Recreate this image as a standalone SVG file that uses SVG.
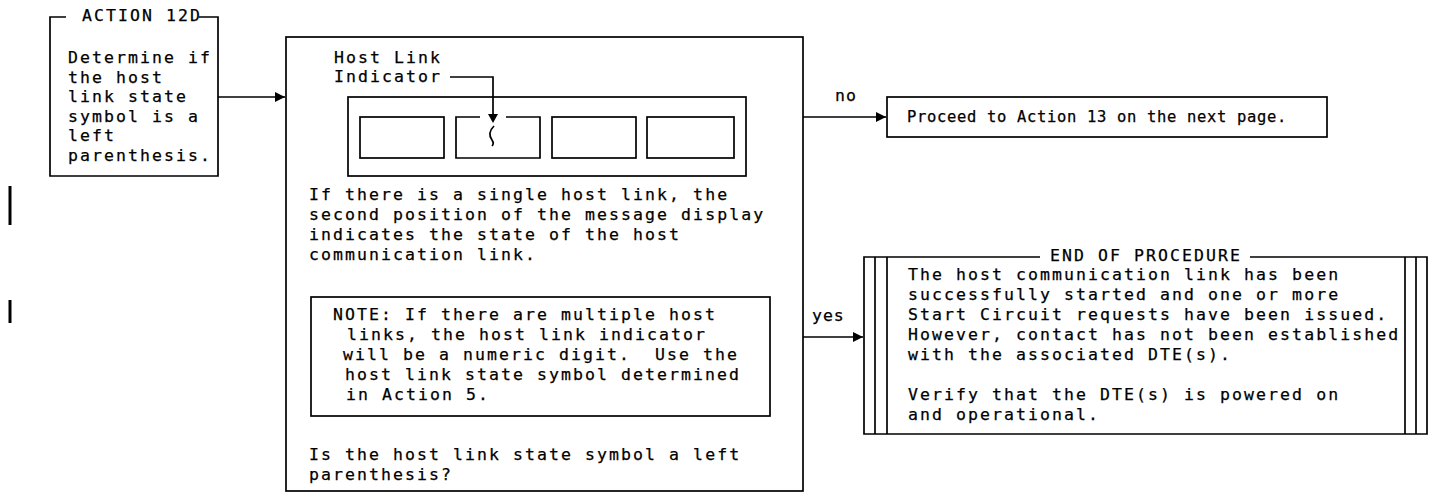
<svg xmlns="http://www.w3.org/2000/svg" width="1430" height="494" viewBox="0 0 1430 494">
<defs>
<style>
text{font-family:"DejaVu Sans Mono","Liberation Mono",monospace;font-size:16.5px;letter-spacing:2.07px;fill:#000;stroke:#000;stroke-width:0.25;white-space:pre}
.ln{stroke:#000;stroke-width:1.7;fill:none}
.prc{font-size:15.5px;letter-spacing:0.67px}
.lbl{letter-spacing:1px}
</style>
<marker id="ah" viewBox="0 0 10 10" refX="10" refY="5" markerWidth="10" markerHeight="10" markerUnits="userSpaceOnUse" orient="auto">
<path d="M0,0 L10,5 L0,10 Z" fill="#000"/>
</marker>
</defs>
<rect width="1430" height="494" fill="#fff"/>
<g id="margin-bars">
<line x1="10" y1="186" x2="10" y2="225" stroke="#000" stroke-width="3"/>
<line x1="10" y1="300" x2="10" y2="323" stroke="#000" stroke-width="3"/>
</g>
<g id="action12d">
<path class="ln" d="M66,17 H50 V176 H218 V17 H199"/>
<text x="82" y="21">ACTION 12D</text>
<text x="68" y="63">Determine if</text>
<text x="68" y="82.5">the host</text>
<text x="68" y="102">link state</text>
<text x="68" y="121.5">symbol is a</text>
<text x="68" y="141">left</text>
<text x="68" y="160.5">parenthesis.</text>
</g>
<g id="decision">
<rect class="ln" x="286" y="37" width="517" height="454"/>
<text x="334" y="63">Host Link</text>
<text x="334" y="82">Indicator</text>
<rect class="ln" x="348" y="97" width="398" height="79"/>
<rect class="ln" x="360" y="117" width="84" height="41"/>
<path class="ln" d="M480,117 H456 V158 H540 V117 H506"/>
<rect class="ln" x="552" y="117" width="84" height="41"/>
<rect class="ln" x="647" y="117" width="87" height="41"/>
<path class="ln" d="M450,77 H493 V114"/>
<path d="M488,114 L498,114 L493,123 Z" fill="#000"/>
<path class="ln" d="M494,126 C489,131 489,136 492,140 C494,143 493,145 492,146"/>
<text x="309" y="200">If there is a single host link, the</text>
<text x="309" y="220">second position of the message display</text>
<text x="309" y="240">indicates the state of the host</text>
<text x="309" y="260">communication link.</text>
<rect class="ln" x="311" y="297" width="459" height="119"/>
<text x="333" y="320">NOTE: If there are multiple host</text>
<text x="347" y="340">links, the host link indicator</text>
<text x="343" y="360" xml:space="preserve">will be a numeric digit.  Use the</text>
<text x="345" y="380">host link state symbol determined</text>
<text x="346" y="400">in Action 5.</text>
<text x="309" y="460">Is the host link state symbol a left</text>
<text x="309" y="480">parenthesis?</text>
</g>
<g id="proceed">
<rect class="ln" x="887" y="97" width="440" height="40"/>
<text class="prc" x="907" y="122">Proceed to Action 13 on the next page.</text>
</g>
<g id="end">
<path class="ln" d="M1040,257 H864 V434 H1427 V257 H1250"/>
<line class="ln" x1="875" y1="257" x2="875" y2="434"/>
<line class="ln" x1="887" y1="257" x2="887" y2="434"/>
<line class="ln" x1="1405" y1="257" x2="1405" y2="434"/>
<line class="ln" x1="1416" y1="257" x2="1416" y2="434"/>
<text x="1050" y="261">END OF PROCEDURE</text>
<text x="908" y="280">The host communication link has been</text>
<text x="908" y="300">successfully started and one or more</text>
<text x="908" y="320">Start Circuit requests have been issued.</text>
<text x="908" y="340">However, contact has not been established</text>
<text x="908" y="360">with the associated DTE(s).</text>
<text x="908" y="400">Verify that the DTE(s) is powered on</text>
<text x="908" y="420">and operational.</text>
</g>
<g id="connectors">
<line class="ln" x1="218" y1="97" x2="285" y2="97" marker-end="url(#ah)"/>
<line class="ln" x1="803" y1="117" x2="886" y2="117" marker-end="url(#ah)"/>
<text class="lbl" x="835" y="101">no</text>
<line class="ln" x1="803" y1="337" x2="863" y2="337" marker-end="url(#ah)"/>
<text class="lbl" x="812" y="321">yes</text>
</g>
</svg>
